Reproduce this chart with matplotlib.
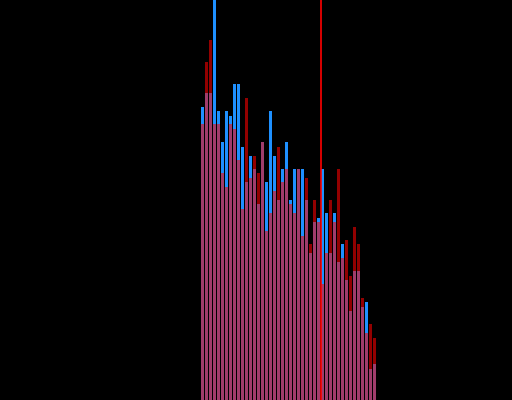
import matplotlib
matplotlib.use("Agg")
import matplotlib.pyplot as plt
import numpy as np

# bin index (left edges) and counts
bins = list(range(44))
blue_counts = [66, 69, 69, 90, 65, 58, 65, 64, 71, 71, 57, 49, 55, 52, 44, 58,
               49, 65, 55, 45, 52, 58, 45, 52, 52, 52, 45, 33, 40, 41, 52, 42,
               33, 42, 31, 35, 27, 20, 29, 29, 21, 22, 7, 8]
red_counts = [62, 76, 81, 62, 62, 51, 48, 62, 61, 54, 43, 68, 50, 55, 51, 58,
              38, 42, 47, 57, 49, 52, 44, 42, 52, 37, 50, 35, 45, 40, 26, 33,
              45, 40, 52, 32, 36, 28, 39, 35, 23, 15, 17, 14]
marker_x = 29.875

fig = plt.figure(figsize=(5.12, 4.0), dpi=100, facecolor="black")
ax = fig.add_axes([0, 0, 1, 1])
ax.set_facecolor("black")
ax.bar(bins, blue_counts, width=0.75, align="edge", color="#1E90FF", linewidth=0)
ax.bar(bins, red_counts, width=0.75, align="edge", color="#FF0000", alpha=0.58, linewidth=0)
ax.axvline(marker_x, color="#FF0000", linewidth=1.2, zorder=5)
ax.set_xlim(-50.25, 77.75)
ax.set_ylim(0, 90)
ax.axis("off")
fig.savefig("out.png", dpi=100, facecolor="black")
